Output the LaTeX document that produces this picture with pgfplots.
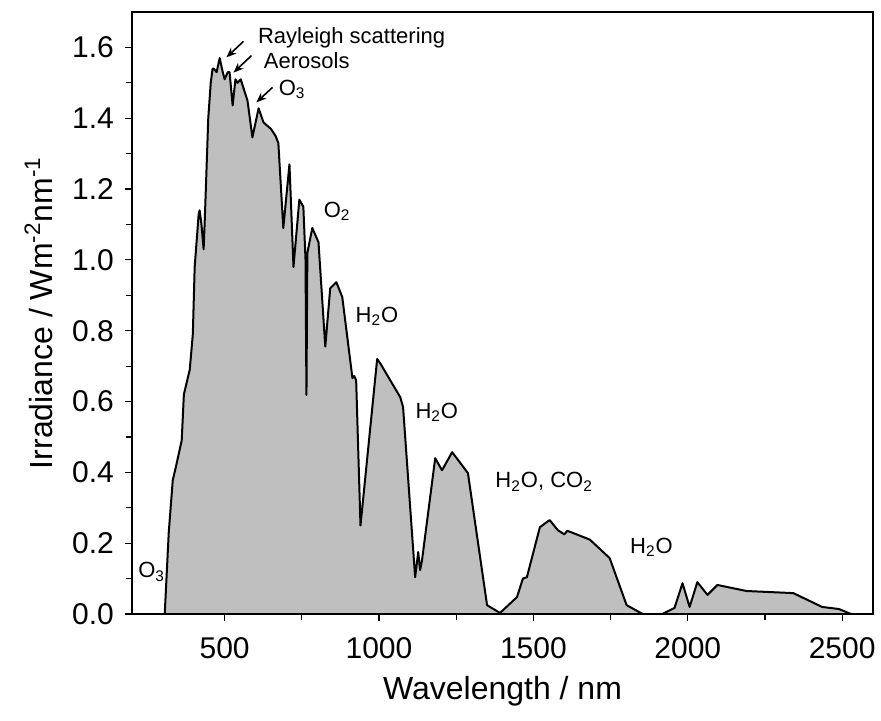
\documentclass[border=0pt]{standalone}
\usepackage{pgfplots}
\pgfplotsset{compat=1.18}
\usepackage{fontspec}
\setmainfont{Liberation Sans}
\usetikzlibrary{arrows.meta}

\newcommand{\annot}{\fontsize{11}{13}\selectfont}

\begin{document}
\begin{tikzpicture}
\begin{axis}[
  scale only axis,
  width=370.5pt, height=301pt,
  xmin=200, xmax=2600, ymin=0, ymax=1.7,
  xtick={500,1000,1500,2000,2500},
  ytick={0,0.2,0.4,0.6,0.8,1.0,1.2,1.4,1.6},
  minor x tick num=1, minor y tick num=1,
  tick pos=left, tick align=outside,
  major tick length=3.5pt, minor tick length=3pt,
  /pgf/number format/assume math mode=true,
  xticklabel style={/pgf/number format/1000 sep={}, yshift=-4.5pt},
  yticklabel style={/pgf/number format/fixed,/pgf/number format/fixed zerofill,/pgf/number format/precision=1, xshift=-2pt},
  ticklabel style={font=\fontsize{15}{18}\selectfont},
  xlabel={Wavelength / nm},
  ylabel={Irradiance / Wm\textsuperscript{-2}nm\textsuperscript{-1}},
  label style={font=\fontsize{16}{19}\selectfont},
  xlabel style={at={(axis description cs:0.5,-0.128)},anchor=center},
  ylabel style={at={(axis description cs:-0.126,0.5)},anchor=center},
  axis line style={line width=0.8pt},
  every tick/.style={black, line width=0.6pt},
]
% solar irradiance at ground level
\addplot[draw=black, line width=1pt, fill=black!25, line join=round] coordinates {
(306,0) (319,0.23) (332,0.378) (342,0.415) (361,0.49) (368,0.62) (387,0.69)
(397,0.79) (403,0.98) (416,1.13) (419,1.14) (425,1.10) (432,1.03) (436,1.12)
(447,1.40) (455,1.50) (461,1.54) (465,1.54) (474,1.53) (484,1.57) (494,1.53)
(500,1.51) (510,1.53) (516,1.53) (526,1.436) (535,1.51) (542,1.50) (552,1.51)
(574,1.45) (590,1.346) (610,1.428) (626,1.388) (650,1.37) (665,1.35) (674,1.33)
(690,1.09) (710,1.27) (723,0.98) (742,1.17) (755,1.15) (762,1.0) (765,0.618)
(768,1.02) (784,1.09) (804,1.05) (826,0.755) (842,0.92) (862,0.937) (881,0.895)
(914,0.666) (920,0.672) (926,0.66) (940,0.25) (994,0.72) (1004,0.708)
(1069,0.612) (1078,0.584) (1117,0.104) (1127,0.175) (1133,0.124) (1139,0.15)
(1182,0.44) (1204,0.406) (1237,0.457) (1288,0.398) (1350,0.025) (1392,0.003)
(1447,0.048) (1466,0.10) (1479,0.104) (1521,0.245) (1547,0.262) (1553,0.265)
(1579,0.237) (1600,0.225) (1610,0.235) (1628,0.229) (1683,0.21) (1747,0.158)
(1802,0.025) (1854,0.0) (1918,0.0) (1957,0.017) (1983,0.087) (2006,0.02)
(2031,0.09) (2064,0.054) (2096,0.082) (2190,0.065) (2342,0.059) (2435,0.02)
(2490,0.014) (2529,0.0)
} \closedcycle;

% absorption annotations
\node[font=\annot, anchor=west, inner sep=0pt] at (axis cs:607,1.628) {Rayleigh scattering};
\node[font=\annot, anchor=west, inner sep=0pt] at (axis cs:626,1.563) {Aerosols};
\node[font=\annot, anchor=base west, inner sep=0pt] at (axis cs:674,1.464) {O\textsubscript{3}};
\node[font=\annot, anchor=base west, inner sep=0pt] at (axis cs:820,1.12) {O\textsubscript{2}};
\node[font=\annot, anchor=base west, inner sep=0pt] at (axis cs:923,0.824) {H\textsubscript{2}O};
\node[font=\annot, anchor=base west, inner sep=0pt] at (axis cs:1117,0.553) {H\textsubscript{2}O};
\node[font=\annot, anchor=base west, inner sep=0pt] at (axis cs:1376,0.356) {H\textsubscript{2}O, CO\textsubscript{2}};
\node[font=\annot, anchor=base west, inner sep=0pt] at (axis cs:1812,0.172) {H\textsubscript{2}O};
\node[font=\annot, anchor=base west, inner sep=0pt] at (axis cs:219,0.102) {O\textsubscript{3}};

\draw[line width=0.8pt, -{Stealth[length=5pt,width=4pt]}] (axis cs:561,1.617) -- (axis cs:506,1.572);
\draw[line width=0.8pt, -{Stealth[length=5pt,width=4pt]}] (axis cs:587,1.577) -- (axis cs:529,1.529);
\draw[line width=0.8pt, -{Stealth[length=5pt,width=4pt]}] (axis cs:655,1.487) -- (axis cs:603,1.445);
\end{axis}
\pgfresetboundingbox
\path (-66pt,-53pt) rectangle (374.5pt,307pt);
\end{tikzpicture}
\end{document}
